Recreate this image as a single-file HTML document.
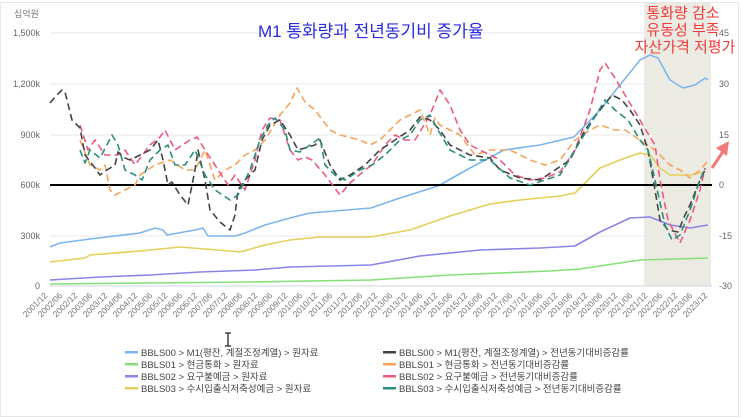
<!DOCTYPE html>
<html><head><meta charset="utf-8"><style>
body{margin:0;background:#fff;width:742px;height:419px;overflow:hidden}
svg{display:block}
text{font-family:"Liberation Sans","Noto Sans CJK KR",sans-serif}
</style></head><body>
<svg width="742" height="419" viewBox="0 0 742 419" xmlns="http://www.w3.org/2000/svg">
<rect x="0.5" y="2.5" width="738" height="414" fill="#fff" stroke="#e6e6e6"/>
<rect x="644" y="3" width="67" height="283" fill="#ecebe3"/>
<g stroke="#e8e8e8" stroke-width="1">
<line x1="50" y1="33" x2="712" y2="33"/><line x1="50" y1="84" x2="712" y2="84"/>
<line x1="50" y1="135" x2="712" y2="135"/><line x1="50" y1="236" x2="712" y2="236"/>
<line x1="50" y1="286" x2="712" y2="286" stroke="#d0d4e0"/>
</g>
<g font-size="9" fill="#666" text-anchor="end">
<text x="40" y="36">1,500k</text><text x="40" y="87">1,200k</text><text x="40" y="138">900k</text>
<text x="40" y="188">600k</text><text x="40" y="239">300k</text><text x="40" y="289">0</text>
</g>
<text x="14" y="17" font-size="9" fill="#777">십억원</text>
<g font-size="9" fill="#666">
<text x="719" y="36">45</text><text x="719" y="87">30</text><text x="719" y="138">15</text>
<text x="719" y="188">0</text><text x="719" y="239">-15</text><text x="719" y="289">-30</text>
</g>
<g fill="none" stroke-width="1.6" stroke-linejoin="round">
<polyline stroke="#7cb5ec" points="50,247 60,243 90,239 140,233 155,228 163,230 167,235 195,230 203,228 208,236 235,236 245,233 265,225 290,218 310,213 371,208 400,198 438,186 470,168 504,150 540,145 574,137 600,110 620,85 640,60 650,55 658,58 670,80 683,88 695,85 705,78 708,80"/>
<polyline stroke="#e4cf5a" points="50,262 85,258 90,255 140,251 180,247 230,251 240,252 265,245 290,240 320,237 371,237 410,230 450,216 490,204 520,200 560,196 575,193 600,168 620,160 640,153 650,155 660,168 670,175 690,175 705,172"/>
<polyline stroke="#8a84e8" points="50,280 100,277 150,275 200,272 255,270 290,267 371,265 420,256 480,250 540,248 575,246 600,232 630,218 650,217 670,225 690,228 708,225"/>
<polyline stroke="#86e07a" points="50,284 150,283 250,282 371,280 450,275 550,271 580,269 640,260 708,258"/>
</g>
<line x1="50" y1="185" x2="712" y2="185" stroke="#000" stroke-width="2"/>
<g fill="none" stroke-width="1.6" stroke-dasharray="7,4" stroke-linejoin="round">
<polyline stroke="#f5a55a" points="80,140 90,165 100,170 105,165 110,190 115,195 125,190 135,185 140,175 155,165 170,160 185,170 195,170 205,150 215,180 225,170 235,165 245,155 255,150 265,140 280,115 290,103 297,88 305,102 315,110 330,130 340,135 360,140 370,145 380,140 390,130 400,120 410,115 420,110 430,135 435,118 440,125 450,130 460,135 475,155 490,150 510,150 530,160 545,165 560,160 575,140 590,130 600,125 615,130 625,130 640,140 655,150 670,165 680,170 690,178 700,170 707,162"/>
<polyline stroke="#ec5b7e" points="80,125 88,150 95,140 105,155 118,155 125,150 135,165 150,145 160,137 165,130 175,150 190,140 197,137 205,150 215,165 228,185 235,175 245,190 255,160 262,130 270,118 280,120 290,150 298,160 305,157 312,160 325,175 340,195 350,183 365,170 372,165 385,145 395,135 405,140 415,140 430,115 440,90 450,105 460,130 470,145 490,155 500,160 515,175 530,180 545,178 560,172 575,150 590,110 600,70 605,63 615,78 625,95 640,120 650,137 655,145 660,180 668,220 680,243 690,220 700,190 705,168"/>
<polyline stroke="#444" points="50,103 55,97 62,90 65,92 72,120 80,128 85,155 95,168 100,175 107,170 115,165 118,152 125,158 130,160 140,155 150,150 158,140 163,160 168,185 172,182 180,195 188,205 195,170 198,150 205,180 210,210 220,222 230,230 235,215 238,190 245,180 255,170 262,140 270,125 280,120 290,135 298,150 305,148 315,145 320,140 330,165 340,180 350,175 365,165 380,150 395,140 410,130 420,117 430,120 440,130 450,145 470,155 490,158 500,170 520,178 540,180 555,170 570,160 585,130 600,110 612,95 622,100 630,110 640,125 648,150 655,190 660,220 668,230 678,232 685,215 690,205 700,180 705,170"/>
<polyline stroke="#2a8f80" points="80,150 85,163 90,150 100,158 112,135 118,145 125,170 135,175 142,180 150,160 160,150 168,145 175,165 185,165 195,150 205,175 215,190 230,200 238,195 250,170 260,140 268,125 275,118 285,130 290,150 300,152 310,145 320,138 325,165 335,175 345,180 360,170 372,165 385,155 400,140 410,135 420,120 430,115 438,130 450,150 470,160 490,160 510,178 530,185 545,180 560,175 575,150 590,125 605,100 615,110 628,120 640,140 648,150 655,180 665,225 672,240 680,235 690,210 700,180 705,168"/>
</g>
<text x="258" y="37" font-size="17" fill="#2a2ae0" font-family="'Liberation Serif','Noto Serif CJK SC',serif">M1 통화량과 전년동기비 증가율</text>
<g font-size="15" fill="#f03a3a" font-family="'Noto Serif CJK SC',serif" text-anchor="middle">
<text x="683" y="18">통화량 감소</text><text x="683" y="35">유동성 부족</text><text x="685" y="52">자산가격 저평가</text>
</g>
<line x1="712" y1="168" x2="724" y2="150" stroke="#f47a7a" stroke-width="3"/>
<polygon points="729,141 716,148 727,156" fill="#f47a7a"/>
<g font-size="8.5" fill="#777" text-anchor="end" id="xl"></g>
<g font-size="9.5" fill="#444">
<rect x="125" y="351" width="13" height="2.5" fill="#7cb5ec"/><text x="141" y="356">BBLS00 &gt; M1(평잔, 계절조정계열) &gt; 원자료</text>
<rect x="125" y="363" width="13" height="2.5" fill="#86e07a"/><text x="141" y="368">BBLS01 &gt; 현금통화 &gt; 원자료</text>
<rect x="125" y="375" width="13" height="2.5" fill="#8a84e8"/><text x="141" y="380">BBLS02 &gt; 요구불예금 &gt; 원자료</text>
<rect x="125" y="387" width="13" height="2.5" fill="#e4cf5a"/><text x="141" y="392">BBLS03 &gt; 수시입출식저축성예금 &gt; 원자료</text>
<rect x="383" y="351" width="13" height="2.5" fill="#444"/><text x="399" y="356">BBLS00 &gt; M1(평잔, 계절조정계열) &gt; 전년동기대비증감률</text>
<rect x="383" y="363" width="13" height="2.5" fill="#f5a55a"/><text x="399" y="368">BBLS01 &gt; 현금통화 &gt; 전년동기대비증감률</text>
<rect x="383" y="375" width="13" height="2.5" fill="#ec5b7e"/><text x="399" y="380">BBLS02 &gt; 요구불예금 &gt; 전년동기대비증감률</text>
<rect x="383" y="387" width="13" height="2.5" fill="#2a8f80"/><text x="399" y="392">BBLS03 &gt; 수시입출식저축성예금 &gt; 전년동기대비증감률</text>
</g>
<g font-size="8.5" fill="#777" text-anchor="end">
<text transform="translate(48,296) rotate(-45)">2001/12</text><text transform="translate(63,296) rotate(-45)">2002/06</text><text transform="translate(78,296) rotate(-45)">2002/12</text><text transform="translate(93,296) rotate(-45)">2003/06</text><text transform="translate(108,296) rotate(-45)">2003/12</text><text transform="translate(123,296) rotate(-45)">2004/06</text><text transform="translate(138,296) rotate(-45)">2004/12</text><text transform="translate(153,296) rotate(-45)">2005/06</text><text transform="translate(168,296) rotate(-45)">2005/12</text><text transform="translate(183,296) rotate(-45)">2006/06</text><text transform="translate(198,296) rotate(-45)">2006/12</text><text transform="translate(213,296) rotate(-45)">2007/06</text><text transform="translate(228,296) rotate(-45)">2007/12</text><text transform="translate(243,296) rotate(-45)">2008/06</text><text transform="translate(258,296) rotate(-45)">2008/12</text><text transform="translate(273,296) rotate(-45)">2009/06</text><text transform="translate(288,296) rotate(-45)">2009/12</text><text transform="translate(303,296) rotate(-45)">2010/06</text><text transform="translate(318,296) rotate(-45)">2010/12</text><text transform="translate(333,296) rotate(-45)">2011/06</text><text transform="translate(348,296) rotate(-45)">2011/12</text><text transform="translate(363,296) rotate(-45)">2012/06</text><text transform="translate(378,296) rotate(-45)">2012/12</text><text transform="translate(393,296) rotate(-45)">2013/06</text><text transform="translate(408,296) rotate(-45)">2013/12</text><text transform="translate(423,296) rotate(-45)">2014/06</text><text transform="translate(438,296) rotate(-45)">2014/12</text><text transform="translate(453,296) rotate(-45)">2015/06</text><text transform="translate(468,296) rotate(-45)">2015/12</text><text transform="translate(483,296) rotate(-45)">2016/06</text><text transform="translate(498,296) rotate(-45)">2016/12</text><text transform="translate(513,296) rotate(-45)">2017/06</text><text transform="translate(528,296) rotate(-45)">2017/12</text><text transform="translate(543,296) rotate(-45)">2018/06</text><text transform="translate(558,296) rotate(-45)">2018/12</text><text transform="translate(573,296) rotate(-45)">2019/06</text><text transform="translate(588,296) rotate(-45)">2019/12</text><text transform="translate(603,296) rotate(-45)">2020/06</text><text transform="translate(618,296) rotate(-45)">2020/12</text><text transform="translate(633,296) rotate(-45)">2021/06</text><text transform="translate(648,296) rotate(-45)">2021/12</text><text transform="translate(663,296) rotate(-45)">2022/06</text><text transform="translate(678,296) rotate(-45)">2022/12</text><text transform="translate(693,296) rotate(-45)">2023/06</text><text transform="translate(708,296) rotate(-45)">2023/12</text>
</g>
<path d="M225,333h6M228,333v13M225,346h6" stroke="#222" stroke-width="1.3" fill="none"/>
</svg>
</body></html>
